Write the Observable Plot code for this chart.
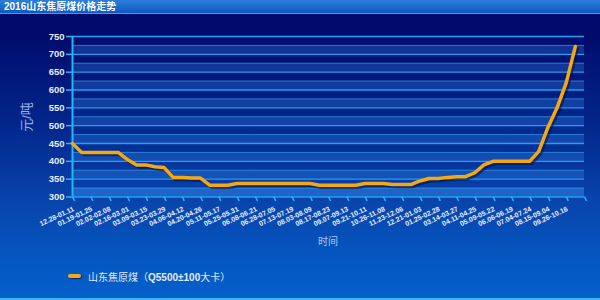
<!DOCTYPE html>
<html>
<head>
<meta charset="utf-8">
<script src="https://cdn.jsdelivr.net/npm/d3@7"></script>
<script src="https://cdn.jsdelivr.net/npm/@observablehq/plot@0.6"></script>
<style>
  html, body { margin: 0; padding: 0; }
  #wrap {
    position: relative; width: 600px; height: 300px; overflow: hidden;
    background: linear-gradient(180deg, #000a68 0%, #000c6c 12%, #02258a 40%, #0845ad 68%, #0558c2 88%, #0660cc 100%);
    font-family: "Liberation Sans", "Noto Sans CJK SC", sans-serif;
  }
  #titlebar {
    position: absolute; left: 0; top: 0; width: 600px; height: 14px;
    background: linear-gradient(180deg, #2e7fdc, #0c5ac2);
    border-bottom: 1px solid #3c9cf0;
    color: #ffffff; font-weight: bold; font-size: 10px; line-height: 14px;
    padding-left: 4px; box-sizing: border-box;
  }
  #chart { position: absolute; left: 0; top: 0; }
  #ytitle {
    position: absolute; left: 25px; top: 117px; transform: translate(-50%, -50%) rotate(-90deg);
    color: #9cb4e4; font-size: 13px; white-space: nowrap;
  }
  #xtitle {
    position: absolute; left: 328px; top: 240px; transform: translate(-50%, -50%);
    color: #b0c6ee; font-size: 10px; white-space: nowrap;
  }
  #legend {
    position: absolute; left: 68px; top: 270px; height: 12px; display: flex; align-items: center;
    color: #e2eaf8; font-size: 10px; white-space: nowrap;
  }
  #legend .sw { width: 13px; height: 3.5px; background: #f5a812; border-radius: 2px; margin-right: 7px; box-shadow: 1px 1px 1px rgba(0,10,60,0.6); }
  #legend b { font-weight: bold; }
  #bottomline { position: absolute; left: 0; bottom: 0; width: 600px; height: 2px; background: #38b8f8; }
</style>
</head>
<body>
<div id="wrap">
  <div id="chart"></div>
  <div id="titlebar">2016山东焦原煤价格走势</div>
  <div id="ytitle">元/吨</div>
  <div id="xtitle">时间</div>
  <div id="legend"><span class="sw"></span><span>山东焦原煤（<b>Q5500±100</b>大卡）</span></div>
  <div id="bottomline"></div>
</div>
<script>
const periodLabels = [
  "12.28-01.11", "01.19-01.25", "02.02-02.08", "02.16-03.01", "03.09-03.15", "03.23-03.29",
  "04.06-04.12", "04.20-04.26", "05.11-05.17", "05.25-05.31", "06.08-06.21", "06.28-07.05",
  "07.13-07.19", "08.03-08.09", "08.17-08.23", "09.07-09.13", "09.21-10.11", "10.26-11.08",
  "11.23-12.06", "12.21-01.03", "01.25-02.28", "03.14-03.27", "04.11-04.25", "05.09-05.22",
  "06.06-06.19", "07.04-07.24", "08.15-09.04", "09.26-10.16"
];
const prices = [
  450, 425, 425, 425, 425, 425, 405, 390, 390, 385,
  383, 355, 355, 353, 353, 333, 333, 333, 338, 338,
  338, 338, 338, 338, 338, 338, 338, 333, 333, 333,
  333, 333, 338, 338, 338, 335, 335, 335, 345, 352,
  352, 355, 357, 357, 368, 390, 400, 400, 400, 400,
  400, 428, 495, 550, 620, 722
];
const yTicks = [300, 350, 400, 450, 500, 550, 600, 650, 700, 750];
const bandStarts = [300, 350, 400, 450, 500, 550, 600, 650, 700];

const data = prices.map((v, i) => ({i, v}));
const xTickIdx = d3.range(0, periodLabels.length * 2 + 1, 2);

const chart = Plot.plot({
  width: 600,
  height: 300,
  marginLeft: 72,
  marginRight: 16,
  marginTop: 36,
  marginBottom: 103.5,
  style: {background: "transparent", fontFamily: "'Liberation Sans', 'Noto Sans CJK SC', sans-serif", overflow: "visible"},
  x: {domain: [0, periodLabels.length * 2], axis: null, label: null},
  y: {domain: [300, 750], axis: null, label: null},
  marks: [
    Plot.rect(bandStarts, {x1: () => 0, x2: () => periodLabels.length * 2, y1: d => d, y2: d => d + 25, fill: "#3f8ff2", fillOpacity: d => d === 300 ? 0.45 : 0.28}),
    Plot.ruleY(bandStarts, {y: d => d + 25, x1: () => 0, x2: () => periodLabels.length * 2, stroke: "#2c9cf2", strokeOpacity: 0.65, strokeWidth: 1}),
    Plot.ruleY(yTicks, {x1: () => 0, x2: () => periodLabels.length * 2, stroke: "#1ea4f2", strokeWidth: 1.4}),
    Plot.ruleX([0], {stroke: "#22b8f8", strokeWidth: 2}),
    Plot.axisY({ticks: yTicks, label: null, tickSize: 6, tickPadding: 2, stroke: "#22b8f8", strokeWidth: 1.5, fill: "#e6ecf8", fontSize: 9.5, fontWeight: "bold", tickFormat: d => String(d)}),
    Plot.axisX({ticks: xTickIdx, label: null, tickSize: 5, tickPadding: 4, stroke: "#22b8f8", strokeWidth: 1.5, fill: "#e6ecf8", fontSize: 7, fontWeight: "bold", rotate: -25, textAnchor: "end", tickFormat: i => periodLabels[i / 2] ?? ""}),
    Plot.line(data, {x: "i", y: "v", stroke: "#001040", strokeOpacity: 0.55, strokeWidth: 3.5, dx: 2, dy: 2}),
    Plot.line(data, {x: "i", y: "v", stroke: "#f5a812", strokeWidth: 3.5})
  ]
});
document.getElementById("chart").appendChild(chart);
</script>
</body>
</html>
